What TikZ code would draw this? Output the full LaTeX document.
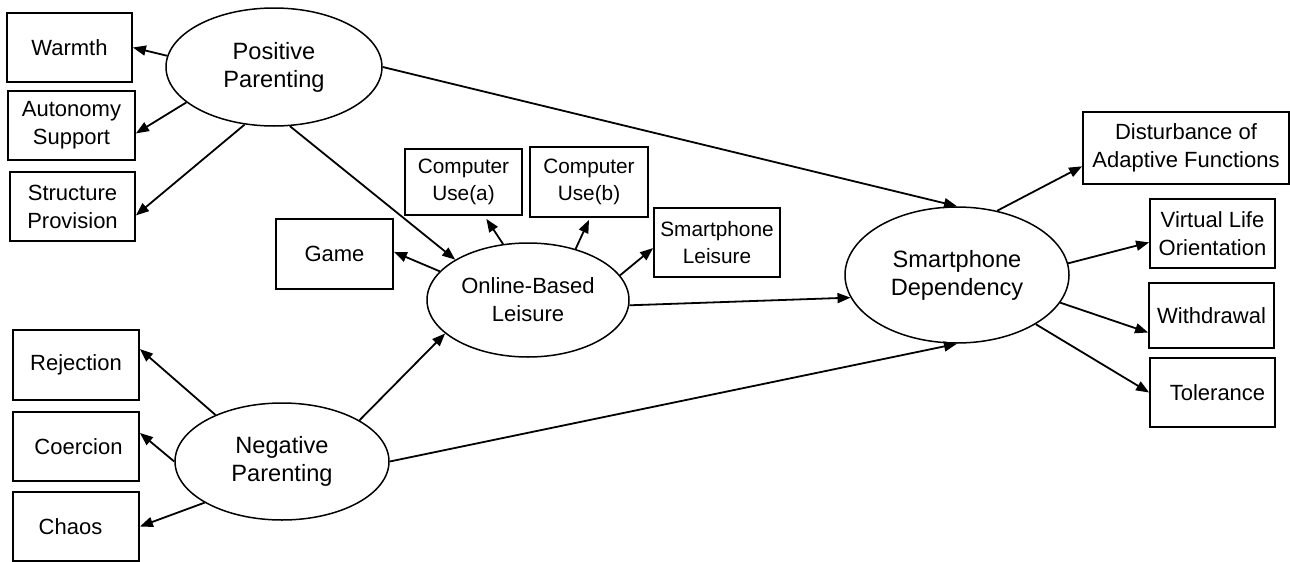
\documentclass[tikz,border=0pt]{standalone}
\usepackage{fontspec}
\setmainfont{Liberation Sans}
\usetikzlibrary{arrows.meta,shapes.geometric}
\begin{document}
\begin{tikzpicture}[x=1pt,y=-1pt,
  every node/.style={font=\fontsize{22}{28}\selectfont, align=center, inner sep=0pt},
  obs/.style={draw, line width=1.8pt, rectangle},
  lat/.style={draw, line width=1.5pt, ellipse},
  big/.style={font=\fontsize{23.6}{28}\selectfont},
  small/.style={font=\fontsize{20.8}{27}\selectfont},
  path/.style={line width=1.8pt, -{Triangle[length=13pt,width=10pt]}}]
\useasboundingbox (0,0) rectangle (1290,562);

% latent factors
\node[lat, big, minimum width=216, minimum height=118] (pp) at (274,67) {Positive\\Parenting};
\node[lat, big, minimum width=214, minimum height=117] (np) at (282,461.5) {Negative\\Parenting};
\node[lat, minimum width=202, minimum height=114] (obl) at (528,300) {Online-Based\\Leisure};
\node[lat, big, minimum width=224, minimum height=136] (sd) at (957,275) {Smartphone\\Dependency};

% indicators
\node[obs, minimum width=125, minimum height=69] (warm) at (69.5,47.5) {Warmth};
\node[obs, minimum width=127, minimum height=69] (auto) at (71.5,125.5) {Autonomy\\Support};
\node[obs, minimum width=125, minimum height=69] (struc) at (72.5,206.5) {Structure\\Provision};
\node[obs, minimum width=126, minimum height=70] (rej) at (76,365) {Rejection};
\node[obs, minimum width=126, minimum height=69] (coer) at (76,446.5) {\hspace*{5pt}Coercion};
\node[obs, minimum width=126, minimum height=69] (chaos) at (76,526.5) {Chaos\hspace*{11pt}};
\node[obs, minimum width=117, minimum height=70] (game) at (334.5,254) {Game};
\node[obs, small, minimum width=117, minimum height=66] (cua) at (463.5,182) {Computer\\Use(a)};
\node[obs, small, minimum width=118, minimum height=70] (cub) at (589,182) {Computer\\Use(b)};
\node[obs, small, minimum width=126, minimum height=69] (sl) at (717,242.5) {Smartphone\\Leisure};
\node[obs, minimum width=206, minimum height=72] (dist) at (1186,148) {Disturbance of\\Adaptive Functions};
\node[obs, minimum width=125, minimum height=69] (vlo) at (1212.5,233.5) {Virtual Life\\Orientation};
\node[obs, minimum width=125, minimum height=65] (wd) at (1211.5,315.5) {Withdrawal};
\node[obs, minimum width=125, minimum height=69] (tol) at (1212.5,392.5) {\hspace*{10pt}Tolerance};

% measurement paths
\draw[path] (pp.174.7) -- (warm.east);
\draw[path] (pp.202) -- (auto.353);
\draw[path] (pp.243.4) -- (struc.352.5);
\draw[path] (np.145.2) -- (rej.14.2);
\draw[path] (np.west) -- (coer.12.3);
\draw[path] (np.208) -- (chaos.east);
\draw[path] (obl.162.9) -- (game.2);
\draw[path] (obl.114.4) -- ([yshift=-3pt]cua.304.2);
\draw[path] (obl.47.9) -- ([yshift=-2pt]cub.south);
\draw[path] (obl.15) -- (sl.185);
\draw[path] (sd.58.9) -- (dist.190.5);
\draw[path] (sd.6.9) -- (vlo.188.6);
\draw[path] (sd.345.3) -- (wd.195.4);
\draw[path] (sd.328.8) -- (tol.west);

% structural paths
\draw[path] (pp.285.4) -- (obl.151.9);
\draw[path] (pp.east) -- (sd.north);
\draw[path] (np.28.3) -- (obl.202.9);
\draw[path] (np.east) -- (sd.south);
\draw[path] (obl.357) -- (sd.192.1);
\end{tikzpicture}
\end{document}
